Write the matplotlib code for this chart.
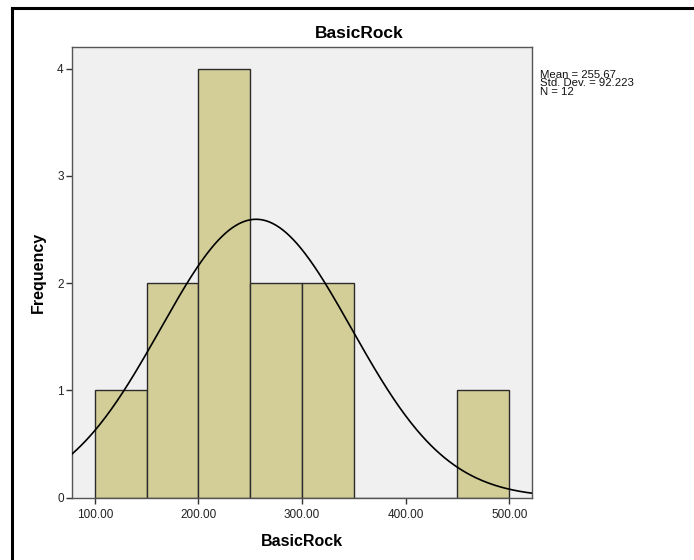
import numpy as np
import matplotlib
matplotlib.use("Agg")
import matplotlib.pyplot as plt
from matplotlib.lines import Line2D

plt.rcParams['font.family'] = ['Liberation Sans', 'DejaVu Sans']

# Histogram bins (BasicRock) and frequencies
bin_edges = [100, 150, 200, 250, 300, 350, 400, 450, 500]
frequencies = [1, 2, 4, 2, 2, 0, 0, 1]
mean_val = 255.67
std_val = 92.223
n_obs = 12
x_ticks = [100, 200, 300, 400, 500]
x_tick_labels = ["100.00", "200.00", "300.00", "400.00", "500.00"]
y_ticks = [0, 1, 2, 3, 4]

W, H = 694, 560
fig = plt.figure(figsize=(W / 100, H / 100), dpi=100)
fig.patch.set_facecolor("white")

ax = fig.add_axes([72 / W, 1 - 497.5 / H, (532 - 72) / W, (497.5 - 47.3) / H])
ax.set_facecolor("#f0f0f0")

lefts = bin_edges[:-1]
widths = np.diff(bin_edges)
ax.bar(lefts, frequencies, width=widths, align="edge", color="#d3ce97",
       edgecolor="#2b2b2b", linewidth=1.0, zorder=2)

# Normal curve scaled to counts
bw = widths[0]
xs = np.linspace(78, 522, 400)
ys = n_obs * bw * np.exp(-0.5 * ((xs - mean_val) / std_val) ** 2) / (std_val * np.sqrt(2 * np.pi))
ax.plot(xs, ys, color="black", linewidth=1.2, zorder=3)

ax.set_xlim(78, 522)
ax.set_ylim(0, 4.2)
ax.set_xticks(x_ticks)
ax.set_xticklabels(x_tick_labels)
ax.set_yticks(y_ticks)
ax.set_yticklabels([str(v) for v in y_ticks])
ax.tick_params(axis="both", direction="out", length=4, width=1, color="#333333",
               labelsize=8.5, labelcolor="#222222", pad=2)
ax.tick_params(axis="x", pad=4)
for sp in ax.spines.values():
    sp.set_color("#555555")
    sp.set_linewidth(1.0)

ax.set_xlabel("BasicRock", fontsize=11.5, fontweight="bold", labelpad=10)
ax.set_ylabel("Frequency", fontsize=11.5, fontweight="bold", labelpad=8)

fig.text(359 / W, 1 - 34 / H, "BasicRock", fontsize=12.5, fontweight="bold",
         ha="center", va="center")

stats = [f"Mean = {mean_val:.2f}", f"Std. Dev. = {std_val:.3f}", f"N = {n_obs}"]
fig.text(540 / W, 1 - 70 / H, "\n".join(stats), fontsize=8.2, ha="left",
         va="top", color="#111111", linespacing=0.8)

# Outer frame
fig.add_artist(Line2D([12 / W, 1], [1 - 8 / H, 1 - 8 / H], color="black", linewidth=2.2))
fig.add_artist(Line2D([12 / W, 12 / W], [0, 1 - 8 / H], color="black", linewidth=2.2))

fig.savefig("out.png", dpi=100)
